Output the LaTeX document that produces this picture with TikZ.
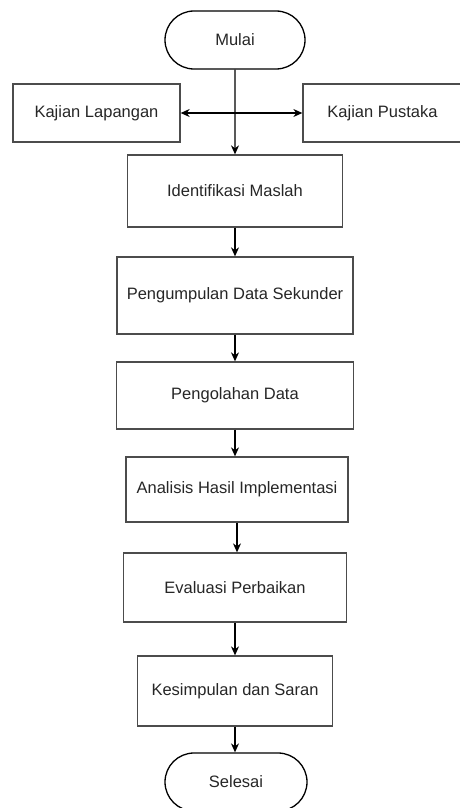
\documentclass[tikz,border=0pt]{standalone}
\usepackage{fontspec}
\setmainfont{Liberation Sans}
\usetikzlibrary{positioning, shapes.misc, arrows.meta}

\begin{document}
\begin{tikzpicture}[x=1pt, y=-1pt, >={Stealth[length=9pt, width=8pt]}, line width=1.1pt,
    box/.style={rectangle, draw=black!70, line width=1.3pt, inner sep=0pt,
      text=black!85, font=\fontsize{16.5}{19}\selectfont},
    term/.style={rounded rectangle, draw, line width=1.3pt, inner sep=0pt,
      minimum width=140pt, minimum height=58pt,
      text=black!85, font=\fontsize{16.5}{19}\selectfont}]

  \useasboundingbox (0,0) rectangle (459,808);

  \node[term] (mulai) at (235,40) {Mulai};
  \node[box, minimum width=167pt, minimum height=58pt] (lapangan) at (96.5,113) {Kajian Lapangan};
  \node[box, minimum width=159pt, minimum height=58pt] (pustaka) at (382.5,113) {Kajian Pustaka};
  \node[box, minimum width=215pt, minimum height=72pt] (identifikasi) at (235,191) {Identifikasi Maslah};
  \node[box, minimum width=236pt, minimum height=77pt] (pengumpulan) at (235,295.5) {Pengumpulan Data Sekunder};
  \node[box, minimum width=237pt, minimum height=67pt] (pengolahan) at (235,395.5) {Pengolahan Data};
  \node[box, minimum width=222pt, minimum height=65pt] (analisis) at (237,489.5) {Analisis Hasil Implementasi};
  \node[box, minimum width=223pt, minimum height=69pt] (evaluasi) at (235,587.5) {Evaluasi Perbaikan};
  \node[box, minimum width=195pt, minimum height=70pt] (kesimpulan) at (235,691) {Kesimpulan dan Saran};
  \node[term, minimum width=142pt] (selesai) at (236,782) {Selesai};

  \draw[->] (mulai) -- (identifikasi);
  \draw[<->] (lapangan) -- (pustaka);
  \foreach \a/\b in {identifikasi/pengumpulan, pengumpulan/pengolahan, pengolahan/analisis,
      analisis/evaluasi, evaluasi/kesimpulan, kesimpulan/selesai}
    \draw[->] (\a.south) -- (\a.south |- \b.north);
\end{tikzpicture}
\end{document}
